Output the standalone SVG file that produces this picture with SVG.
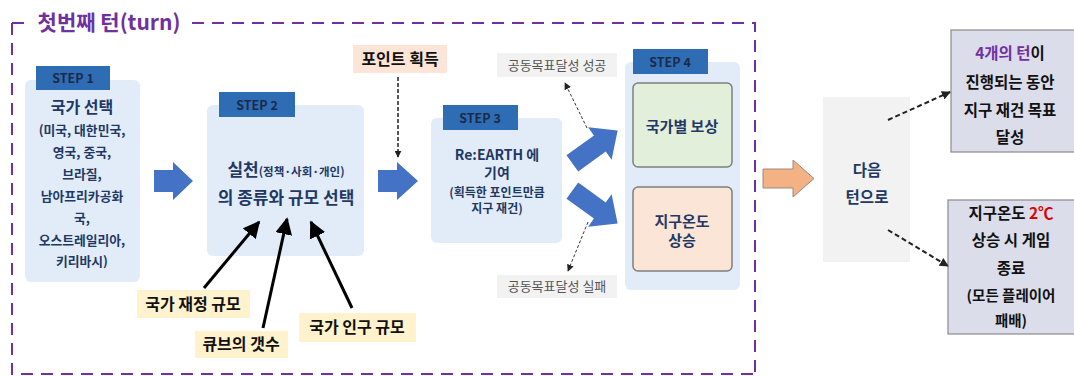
<svg xmlns="http://www.w3.org/2000/svg" width="1074" height="376" viewBox="0 0 1074 376">
<style>
text{font-family:"Noto Sans CJK KR","Noto Sans",sans-serif;font-weight:bold;text-anchor:middle}
.navy{fill:#1F3864}
.stepbox{fill:#E1ECF8}
.steplbl{fill:#2E6DB4}
.steptxt{font-size:12.5px;fill:#1B2A4A}
.yel{fill:#FFF2CC}
.lbl{font-size:16px;fill:#111}
.gray{fill:#F2F2F2}
.small{font-size:13px;font-weight:normal;fill:#555}
.blk{fill:#4472C4}
.rbox{fill:#DCDDEB;stroke:#8A8A8A;stroke-width:1.2}
.rtxt{font-size:15.5px;fill:#111}
</style>
<defs>
<marker id="ah" viewBox="0 0 10 10" refX="9" refY="5" markerWidth="17" markerHeight="17" markerUnits="userSpaceOnUse" orient="auto"><path d="M0,0 L10,5 L0,10 z" fill="#000"/></marker>
<marker id="sh" viewBox="0 0 10 10" refX="9" refY="5" markerWidth="7" markerHeight="7" markerUnits="userSpaceOnUse" orient="auto"><path d="M0,0 L10,5 L0,10 z" fill="#222"/></marker>
<marker id="mh" viewBox="0 0 10 10" refX="9" refY="5" markerWidth="9" markerHeight="9" markerUnits="userSpaceOnUse" orient="auto"><path d="M0,0 L10,5 L0,10 z" fill="#222"/></marker>
</defs>
<rect width="1074" height="376" fill="#fff"/>

<g id="turn-frame">
<path d="M12,23 L26,23 M192,23 L755,23 L755,374 M12,23 L12,374 L755,374" fill="none" stroke="#7030A0" stroke-width="2" stroke-dasharray="12,8"/>
<text x="109" y="30" style="font-size:21px;fill:#7030A0">첫번째 턴(turn)</text>
</g>

<g id="step1">
<rect class="stepbox" x="25" y="80" width="115" height="202" rx="6"/>
<rect class="steplbl" x="36" y="66" width="74" height="24"/>
<text class="steptxt" x="73" y="83">STEP 1</text>
<text class="navy" x="82" y="113" style="font-size:16px">국가 선택</text>
<text class="navy" x="82" y="135" style="font-size:12.8px">(미국, 대한민국,</text>
<text class="navy" x="82" y="157" style="font-size:12.8px">영국, 중국,</text>
<text class="navy" x="82" y="179" style="font-size:12.8px">브라질,</text>
<text class="navy" x="82" y="201" style="font-size:12.8px">남아프리카공화</text>
<text class="navy" x="82" y="223" style="font-size:12.8px">국,</text>
<text class="navy" x="82" y="245" style="font-size:12.8px">오스트레일리아,</text>
<text class="navy" x="82" y="266" style="font-size:12.8px">키리바시)</text>
</g>

<g id="step2">
<rect class="stepbox" x="207" y="105" width="157" height="151" rx="6"/>
<rect class="steplbl" x="219" y="92" width="76" height="25"/>
<text class="steptxt" x="257" y="110">STEP 2</text>
<text class="navy" x="286" y="176" style="font-size:17px">실천<tspan style="font-size:11.5px">(정책·사회·개인)</tspan></text>
<text class="navy" x="286" y="204" style="font-size:17px">의 종류와 규모 선택</text>
</g>

<g id="label-finance">
<rect class="yel" x="137" y="290" width="113" height="28"/>
<text class="lbl" x="193" y="310">국가 재정 규모</text>
</g>
<g id="label-cubes">
<rect class="yel" x="195" y="331" width="93" height="27"/>
<text class="lbl" x="241" y="350">큐브의 갯수</text>
</g>
<g id="label-population">
<rect class="yel" x="299" y="313" width="117" height="29"/>
<text class="lbl" x="357" y="333">국가 인구 규모</text>
</g>
<g id="label-points">
<rect fill="#FCE4D6" x="353" y="45" width="94" height="28"/>
<text class="lbl" x="400" y="65">포인트 획득</text>
</g>

<g id="step3">
<rect class="stepbox" x="431" y="118" width="131" height="125" rx="6"/>
<rect class="steplbl" x="443" y="105" width="75" height="25"/>
<text class="steptxt" x="480" y="123">STEP 3</text>
<text class="navy" x="497" y="160" style="font-size:14px">Re:EARTH 에</text>
<text class="navy" x="497" y="178" style="font-size:14px">기여</text>
<text class="navy" x="497" y="197" style="font-size:12px">(획득한 포인트만큼</text>
<text class="navy" x="497" y="213" style="font-size:12px">지구 재건)</text>
</g>

<g id="label-success">
<rect class="gray" x="497" y="53" width="120" height="24"/>
<text class="small" x="557" y="70">공동목표달성 성공</text>
</g>
<g id="label-fail">
<rect class="gray" x="497" y="275" width="120" height="23"/>
<text class="small" x="557" y="291">공동목표달성 실패</text>
</g>

<g id="step4">
<rect class="stepbox" x="625" y="62" width="115" height="228" rx="6"/>
<rect class="steplbl" x="633" y="49" width="75" height="25"/>
<text class="steptxt" x="670" y="67">STEP 4</text>
<rect x="633" y="83" width="99" height="84" rx="5" fill="#E2EFDA" stroke="#7F7F7F" stroke-width="1.5"/>
<text class="navy" x="682" y="132" style="font-size:15px">국가별 보상</text>
<rect x="633" y="187" width="99" height="84" rx="5" fill="#FBE5D6" stroke="#7F7F7F" stroke-width="1.5"/>
<text class="navy" x="682" y="227" style="font-size:15px">지구온도</text>
<text class="navy" x="682" y="246" style="font-size:15px">상승</text>
</g>

<g id="next-turn">
<rect x="823" y="97" width="87" height="165" fill="#F2F2F2"/>
<text class="navy" x="867" y="176" style="font-size:15.5px">다음</text>
<text class="navy" x="867" y="203" style="font-size:15.5px">턴으로</text>
</g>

<g id="goal-box">
<rect class="rbox" x="951" y="30" width="126" height="122"/>
<text class="rtxt" x="1010" y="59"><tspan fill="#7030A0">4개의 턴</tspan>이</text>
<text class="rtxt" x="1010" y="88">진행되는 동안</text>
<text class="rtxt" x="1010" y="116">지구 재건 목표</text>
<text class="rtxt" x="1010" y="143">달성</text>
</g>

<g id="end-box">
<rect class="rbox" x="948" y="200" width="129" height="134"/>
<text class="rtxt" x="1011" y="219">지구온도 <tspan fill="#E00000">2℃</tspan></text>
<text class="rtxt" x="1011" y="246">상승 시 게임</text>
<text class="rtxt" x="1011" y="274">종료</text>
<text class="rtxt" x="1011" y="301" style="font-size:14.5px">(모든 플레이어</text>
<text class="rtxt" x="1011" y="326" style="font-size:14.5px">패배)</text>
</g>

<g id="connectors">
<path class="blk" d="M154,170 L173,170 L173,162 L193,181 L173,200 L173,192 L154,192 Z"/>
<path class="blk" d="M378,170 L397,170 L397,162 L418,181 L397,200 L397,192 L378,192 Z"/>
<path class="blk" transform="translate(595,147) rotate(-36)" d="M-28,-10 L6,-10 L6,-20 L28,0 L6,20 L6,10 L-28,10 Z"/>
<path class="blk" transform="translate(595,207) rotate(36)" d="M-28,-10 L6,-10 L6,-20 L28,0 L6,20 L6,10 L-28,10 Z"/>
<path d="M763,169 L793,169 L793,160 L814,178.5 L793,197 L793,188 L763,188 Z" fill="#F4B183" stroke="#9A8A80" stroke-width="1"/>
<line x1="204" y1="288" x2="259" y2="222" stroke="#000" stroke-width="3" marker-end="url(#ah)"/>
<line x1="263" y1="328" x2="287" y2="219" stroke="#000" stroke-width="3" marker-end="url(#ah)"/>
<line x1="352" y1="308" x2="311" y2="222" stroke="#000" stroke-width="3" marker-end="url(#ah)"/>
<line x1="398" y1="77" x2="398" y2="157" stroke="#222" stroke-width="1.5" stroke-dasharray="4,2" marker-end="url(#sh)"/>
<line x1="587" y1="128" x2="565" y2="83" stroke="#333" stroke-width="1" stroke-dasharray="3,2" marker-end="url(#sh)"/>
<line x1="588" y1="222" x2="568" y2="271" stroke="#333" stroke-width="1" stroke-dasharray="3,2" marker-end="url(#sh)"/>
<line x1="888" y1="120" x2="950" y2="92" stroke="#222" stroke-width="2" stroke-dasharray="5,3" marker-end="url(#mh)"/>
<line x1="888" y1="230" x2="948" y2="266" stroke="#222" stroke-width="2" stroke-dasharray="5,3" marker-end="url(#mh)"/>
</g>
</svg>
